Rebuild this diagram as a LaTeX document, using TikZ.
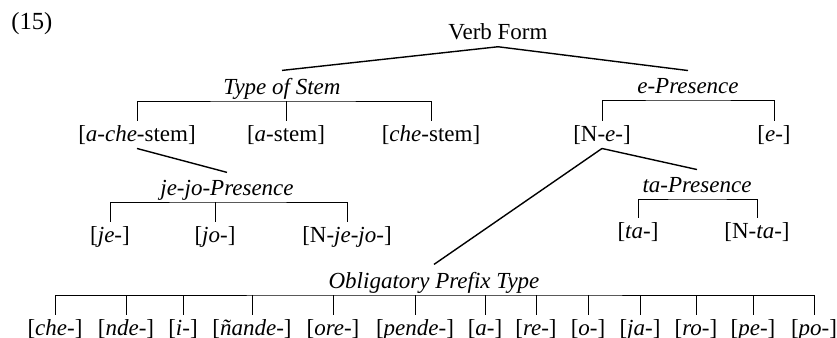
\documentclass[tikz,border=0pt]{standalone}
\usepackage{fontspec}
\setmainfont{Liberation Serif}
\usetikzlibrary{calc}

\begin{document}
\begin{tikzpicture}[x=0.5pt, y=-0.5pt, every node/.style={font=\fontsize{11.5}{14}\selectfont},
  cat/.style={font=\fontsize{11.5}{14}\selectfont\itshape, inner sep=3.5pt, anchor=base},
  leaf/.style={inner sep=2pt, anchor=base},
  bar/.style={line width=0.5pt},
  branch/.style={line width=0.7pt}]
  \useasboundingbox (0,0) rectangle (837,338);
  \node[anchor=base west, inner sep=0pt, font=\fontsize{12.3}{14}\selectfont] (num) at (11,29) {(15)};
  % top level
  \node[cat, font=\fontsize{11.5}{14}\selectfont] (verb) at (498,39) {Verb Form};
  \node[cat] (stem) at (282,94) {Type of Stem};
  \node[cat] (epres) at (688,93) {e-Presence};
  \draw[branch] (verb.south) -- (stem.north);
  \draw[branch] (verb.south) -- (epres.north);
  % type of stem
  \node[leaf] (achestem) at (137,141) {[\textit{a}-\textit{che}-stem]};
  \node[leaf] (astem) at (286,141) {[\textit{a}-stem]};
  \node[leaf] (chestem) at (431,141) {[\textit{che}-stem]};
  \coordinate (stembar) at ($(stem.base)+(0,7)$);
  \draw[bar] (achestem.north) |- (stembar) -| (chestem.north);
  \draw[bar] (astem.north) -- (astem.north |- stembar);
  % e-presence
  \node[leaf] (ne) at (602,141) {[N-\textit{e}-]};
  \node[leaf] (eonly) at (774,141) {[\textit{e}-]};
  \coordinate (ebar) at ($(epres.base)+(0,7)$);
  \draw[bar] (ne.north) |- (ebar) -| (eonly.north);
  % je-jo-presence
  \node[cat] (jejo) at (227,195) {je-jo-Presence};
  \draw[branch] (achestem.south) -- (jejo.north);
  \node[leaf] (je) at (110,242) {[\textit{je}-]};
  \node[leaf] (jo) at (215,242) {[\textit{jo}-]};
  \node[leaf] (njejo) at (347,242) {[N-\textit{je-jo}-]};
  \coordinate (jejobar) at ($(jejo.base)+(0,7)$);
  \draw[bar] (je.north) |- (jejobar) -| (njejo.north);
  \draw[bar] (jo.north) -- (jo.north |- jejobar);
  % ta-presence
  \node[cat] (tapres) at (697,192) {ta-Presence};
  \draw[branch] (ne.south) -- (tapres.north);
  \node[leaf] (ta) at (638,238) {[\textit{ta}-]};
  \node[leaf] (nta) at (757,238) {[N-\textit{ta}-]};
  \coordinate (tabar) at ($(tapres.base)+(0,7)$);
  \draw[bar] (ta.north) |- (tabar) -| (nta.north);
  % obligatory prefix type
  \node[cat] (oblig) at (434,288) {Obligatory Prefix Type};
  \draw[branch] (ne.south) -- (oblig.north);
  \node[leaf] (che) at (55,335) {[\textit{che}-]};
  \node[leaf] (nde) at (126,335) {[\textit{nde}-]};
  \node[leaf] (i) at (183,335) {[\textit{i}-]};
  \node[leaf] (nande) at (252,335) {[\textit{ñande}-]};
  \node[leaf] (ore) at (333,335) {[\textit{ore}-]};
  \node[leaf] (pende) at (415,335) {[\textit{pende}-]};
  \node[leaf] (a) at (485,335) {[\textit{a}-]};
  \node[leaf] (re) at (536,335) {[\textit{re}-]};
  \node[leaf] (o) at (588,335) {[\textit{o}-]};
  \node[leaf] (ja) at (640,335) {[\textit{ja}-]};
  \node[leaf] (ro) at (696,335) {[\textit{ro}-]};
  \node[leaf] (pe) at (753,335) {[\textit{pe}-]};
  \node[leaf] (po) at (814,335) {[\textit{po}-]};
  \coordinate (obligbar) at ($(oblig.base)+(0,7)$);
  \draw[bar] (che.north) |- (obligbar) -| (po.north);
  \foreach \p in {nde,i,nande,ore,pende,a,re,o,ja,ro,pe}
    \draw[bar] (\p.north) -- (\p.north |- obligbar);
\end{tikzpicture}
\end{document}
